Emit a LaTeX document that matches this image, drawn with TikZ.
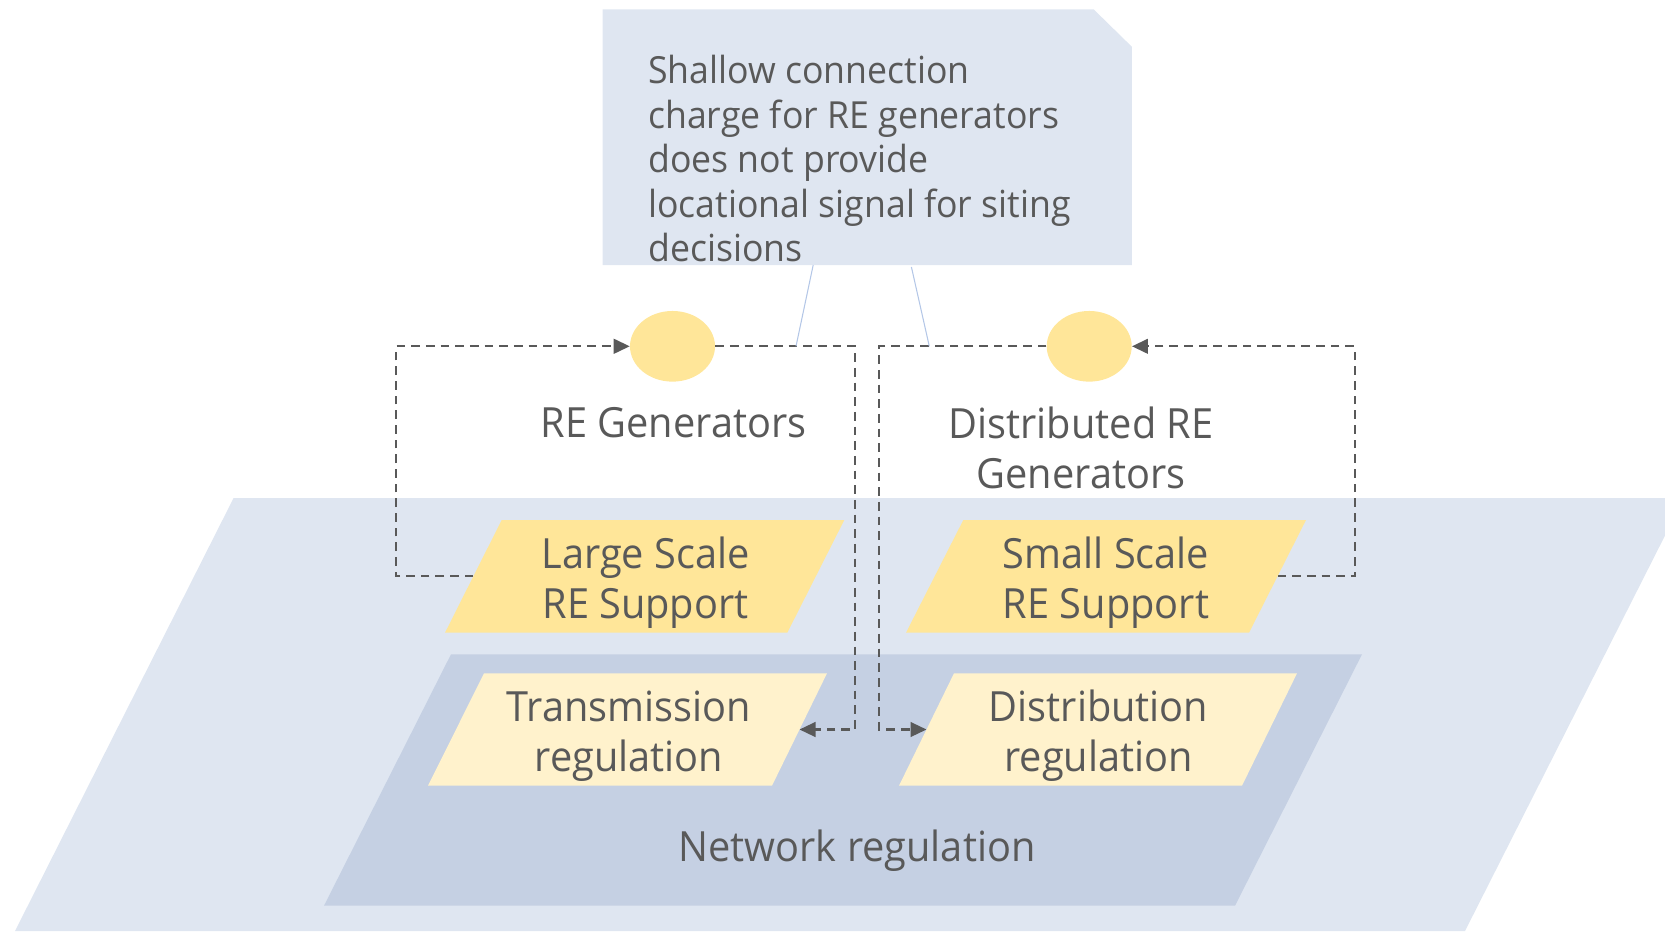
\documentclass[tikz,border=0pt]{standalone}
\usepackage{fontspec}
\setmainfont[FakeStretch=0.955]{Open Sans}
\usetikzlibrary{arrows.meta,shapes.geometric}
\definecolor{bgA}{HTML}{DFE6F1}
\definecolor{bgB}{HTML}{C5D0E3}
\definecolor{yel}{HTML}{FFE699}
\definecolor{pyel}{HTML}{FFF2CC}
\definecolor{txt}{HTML}{595959}
\definecolor{thinblue}{HTML}{B4C7E7}
\begin{document}
\begin{tikzpicture}[x=0.75pt,y=-0.75pt,
  lbl/.style={inner sep=0pt,text=txt,align=center,anchor=base,font=\fontsize{31.2pt}{37.5pt}\selectfont},
  calltext/.style={inner sep=0pt,text=txt,align=left,anchor=base west,font=\fontsize{28pt}{33.4pt}\selectfont},
  dashline/.style={draw=txt,line width=1.7pt,dash pattern=on 6.5pt off 4.5pt},
  tip/.style={-{Triangle[length=12pt,width=11pt]}},
  gen/.style={ellipse,fill=yel,inner sep=0pt,minimum width=63.75pt,minimum height=53pt},
  thinline/.style={draw=thinblue,line width=0.8pt}]
\useasboundingbox (0,0) rectangle (1665,931);
\begin{scope}
\clip (0,0) rectangle (1665,931);
\fill[bgA] (233.6,498) -- (1684,498) -- (1465,931) -- (15,931) -- cycle;
\end{scope}
\fill[bgB] (451,654.3) -- (1362,654.3) -- (1235,905.7) -- (324,905.7) -- cycle;
\fill[bgA] (602.5,9.3) -- (1093.6,9.3) -- (1131.8,46.7) -- (1131.8,265) -- (602.5,265) -- cycle;
% anchor coordinates
\coordinate (calloutL) at (813.2,265);
\coordinate (calloutR) at (911.4,267);
\coordinate (lsW) at (473.4,576.3);
\coordinate (ssE) at (1277.5,576.3);
\coordinate (trE) at (799.5,729.5);
\coordinate (drW) at (926.5,729.5);
\coordinate (jL) at (855,729.5);
\coordinate (jR) at (879.3,729.5);
\coordinate (tapL) at (796,346.3);
\coordinate (tapR) at (929.3,346.3);
% generators
\node[gen] (genL) at (672.5,346.3) {};
\node[gen] (genR) at (1089.2,346.3) {};
% dashed connectors
\draw[dashline,tip] (lsW) -- ++(-77.4,0) |- (genL.west);
\draw[dashline,tip] (genL.east) -| (jL) -- (trE);
\draw[dashline,tip] (genR.west) -| (jR) -- (drW);
\draw[dashline,tip] (ssE) -- ++(77.2,0) |- (genR.east);
% thin lines
\draw[thinline] (calloutL) -- (tapL);
\draw[thinline] (calloutR) -- (tapR);
% parallelograms
\fill[yel] (501.7,520) -- (844.3,520) -- (787.3,632.7) -- (445,632.7) -- cycle;
\fill[yel] (963.3,520) -- (1306,520) -- (1249,632.7) -- (906,632.7) -- cycle;
\fill[pyel] (484,673.3) -- (827,673.3) -- (772,785.7) -- (428,785.7) -- cycle;
\fill[pyel] (954,673.3) -- (1297,673.3) -- (1242,785.7) -- (899,785.7) -- cycle;
% texts
\node[calltext] (note) at (648,261.7) {Shallow connection\\charge for RE generators\\does not provide\\locational signal for siting\\decisions};
\node[lbl] (genLtext) at (673.5,437.7) {RE Generators};
\node[lbl] (genRtext) at (1081,488) {Distributed RE\\Generators};
\node[lbl] (lstext) at (645.5,618) {Large Scale\\RE Support};
\node[lbl] (sstext) at (1106,618) {Small Scale\\RE Support};
\node[lbl] (trtext) at (629,771) {Transmission\\regulation};
\node[lbl] (drtext) at (1098.6,771) {Distribution\\regulation};
\node[lbl] (nettext) at (857,861.7) {Network regulation};
\end{tikzpicture}
\end{document}
